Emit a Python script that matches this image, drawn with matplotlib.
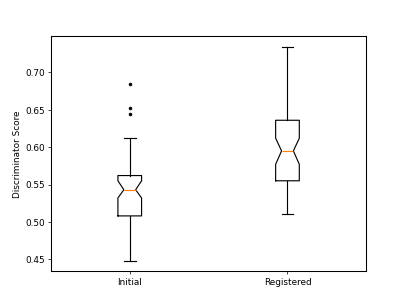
import numpy as np
import matplotlib
matplotlib.use("Agg")
import matplotlib.pyplot as plt

labels = ["Initial", "Registered"]
whislo = [0.448, 0.511]
q1 = [0.508, 0.555]
med = [0.543, 0.595]
q3 = [0.562, 0.636]
whishi = [0.612, 0.734]
cilo = [0.532, 0.577]
cihi = [0.555, 0.612]
fliers = [[0.684, 0.652, 0.644], []]

stats = []
for i in range(len(labels)):
    stats.append(dict(label=labels[i], whislo=whislo[i], q1=q1[i], med=med[i],
                      q3=q3[i], whishi=whishi[i], cilo=cilo[i], cihi=cihi[i],
                      fliers=fliers[i]))

fig, ax = plt.subplots(figsize=(6.4, 4.8), dpi=63.6)
lw = 1.3
ax.bxp(stats, shownotches=True,
       boxprops=dict(linewidth=lw), whiskerprops=dict(linewidth=lw),
       capprops=dict(linewidth=lw), medianprops=dict(linewidth=lw, color='C1'),
       flierprops=dict(marker='.', markerfacecolor='black', markeredgecolor='black', markersize=6))
for s in ax.spines.values():
    s.set_linewidth(1.2)
ax.set_ylabel("Discriminator Score")
fig.savefig("out.png")
